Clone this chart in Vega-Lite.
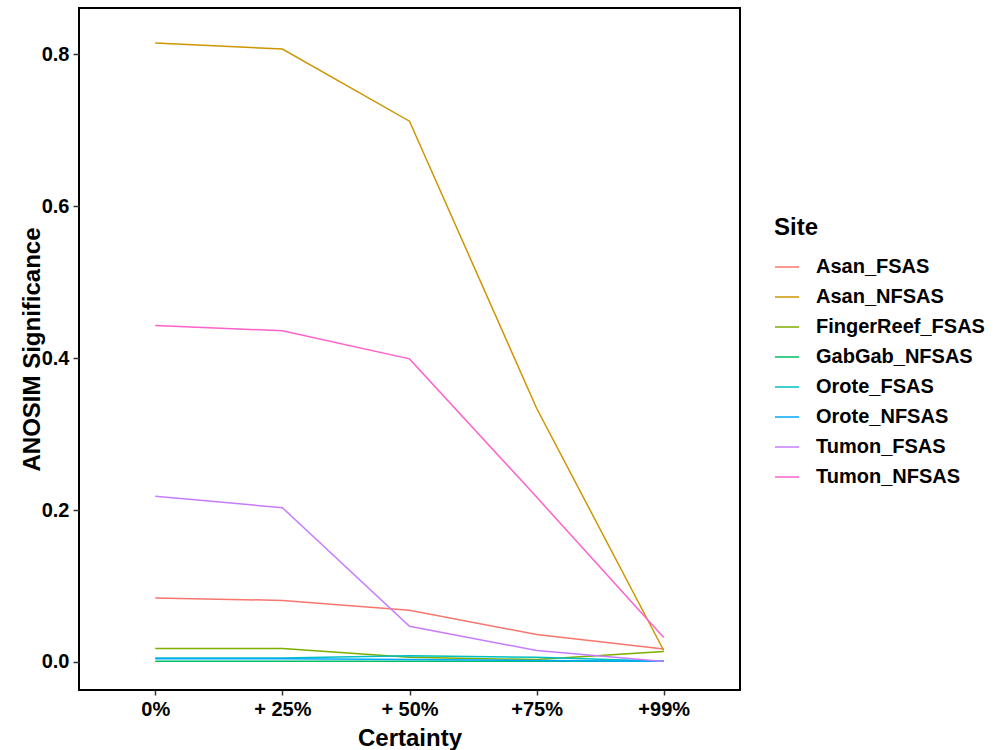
{
  "$schema": "https://vega.github.io/schema/vega-lite/v6.json",
  "width": 661,
  "height": 682,
  "padding": {"left": 79, "top": 8, "right": 260, "bottom": 60},
  "autosize": {"type": "none"},
  "background": "white",
  "data": {
    "values": [
      {"Site": "Asan_FSAS", "Certainty": "0%", "v": 0.084},
      {"Site": "Asan_FSAS", "Certainty": "+ 25%", "v": 0.081},
      {"Site": "Asan_FSAS", "Certainty": "+ 50%", "v": 0.068},
      {"Site": "Asan_FSAS", "Certainty": "+75%", "v": 0.036},
      {"Site": "Asan_FSAS", "Certainty": "+99%", "v": 0.017},
      {"Site": "Asan_NFSAS", "Certainty": "0%", "v": 0.815},
      {"Site": "Asan_NFSAS", "Certainty": "+ 25%", "v": 0.807},
      {"Site": "Asan_NFSAS", "Certainty": "+ 50%", "v": 0.712},
      {"Site": "Asan_NFSAS", "Certainty": "+75%", "v": 0.334},
      {"Site": "Asan_NFSAS", "Certainty": "+99%", "v": 0.015},
      {"Site": "FingerReef_FSAS", "Certainty": "0%", "v": 0.0175},
      {"Site": "FingerReef_FSAS", "Certainty": "+ 25%", "v": 0.0175},
      {"Site": "FingerReef_FSAS", "Certainty": "+ 50%", "v": 0.006},
      {"Site": "FingerReef_FSAS", "Certainty": "+75%", "v": 0.003},
      {"Site": "FingerReef_FSAS", "Certainty": "+99%", "v": 0.0136},
      {"Site": "GabGab_NFSAS", "Certainty": "0%", "v": 0.001},
      {"Site": "GabGab_NFSAS", "Certainty": "+ 25%", "v": 0.001},
      {"Site": "GabGab_NFSAS", "Certainty": "+ 50%", "v": 0.001},
      {"Site": "GabGab_NFSAS", "Certainty": "+75%", "v": 0.001},
      {"Site": "GabGab_NFSAS", "Certainty": "+99%", "v": 0.001},
      {"Site": "Orote_FSAS", "Certainty": "0%", "v": 0.005},
      {"Site": "Orote_FSAS", "Certainty": "+ 25%", "v": 0.005},
      {"Site": "Orote_FSAS", "Certainty": "+ 50%", "v": 0.008},
      {"Site": "Orote_FSAS", "Certainty": "+75%", "v": 0.006},
      {"Site": "Orote_FSAS", "Certainty": "+99%", "v": 0.001},
      {"Site": "Orote_NFSAS", "Certainty": "0%", "v": 0.004},
      {"Site": "Orote_NFSAS", "Certainty": "+ 25%", "v": 0.004},
      {"Site": "Orote_NFSAS", "Certainty": "+ 50%", "v": 0.003},
      {"Site": "Orote_NFSAS", "Certainty": "+75%", "v": 0.002},
      {"Site": "Orote_NFSAS", "Certainty": "+99%", "v": 0.001},
      {"Site": "Tumon_FSAS", "Certainty": "0%", "v": 0.218},
      {"Site": "Tumon_FSAS", "Certainty": "+ 25%", "v": 0.203},
      {"Site": "Tumon_FSAS", "Certainty": "+ 50%", "v": 0.047},
      {"Site": "Tumon_FSAS", "Certainty": "+75%", "v": 0.015},
      {"Site": "Tumon_FSAS", "Certainty": "+99%", "v": 0.0005},
      {"Site": "Tumon_NFSAS", "Certainty": "0%", "v": 0.443},
      {"Site": "Tumon_NFSAS", "Certainty": "+ 25%", "v": 0.436},
      {"Site": "Tumon_NFSAS", "Certainty": "+ 50%", "v": 0.399},
      {"Site": "Tumon_NFSAS", "Certainty": "+75%", "v": 0.217},
      {"Site": "Tumon_NFSAS", "Certainty": "+99%", "v": 0.032}
    ]
  },
  "mark": {"type": "line", "strokeWidth": 1.5},
  "encoding": {
    "x": {
      "field": "Certainty",
      "type": "ordinal",
      "sort": ["0%", "+ 25%", "+ 50%", "+75%", "+99%"],
      "scale": {"type": "point", "padding": 0.6},
      "axis": {
        "title": "Certainty",
        "labelAngle": 0,
        "domain": false,
        "grid": false,
        "tickColor": "#333333",
        "tickSize": 5,
        "tickWidth": 1.5,
        "labelColor": "black",
        "labelFont": "Liberation Sans",
        "labelFontSize": 20,
        "labelFontWeight": "bold",
        "labelPadding": 4,
        "titleFont": "Liberation Sans",
        "titleFontSize": 24,
        "titleFontWeight": "bold",
        "titleColor": "black",
        "titlePadding": 7
      }
    },
    "y": {
      "field": "v",
      "type": "quantitative",
      "scale": {"domain": [-0.037, 0.861], "nice": false, "zero": false},
      "axis": {
        "title": "ANOSIM Significance",
        "values": [0, 0.2, 0.4, 0.6, 0.8],
        "format": ".1f",
        "domain": false,
        "grid": false,
        "tickColor": "#333333",
        "tickSize": 6,
        "tickWidth": 1.5,
        "labelColor": "black",
        "labelFont": "Liberation Sans",
        "labelFontSize": 20,
        "labelFontWeight": "bold",
        "labelPadding": 4,
        "titleFont": "Liberation Sans",
        "titleFontSize": 24,
        "titleFontWeight": "bold",
        "titleColor": "black",
        "titlePadding": -3
      }
    },
    "color": {
      "field": "Site",
      "type": "nominal",
      "scale": {
        "domain": ["Asan_FSAS", "Asan_NFSAS", "FingerReef_FSAS", "GabGab_NFSAS", "Orote_FSAS", "Orote_NFSAS", "Tumon_FSAS", "Tumon_NFSAS"],
        "range": ["#F8766D", "#CD9600", "#7CAE00", "#00BE67", "#00BFC4", "#00A9FF", "#C77CFF", "#FF61CC"]
      },
      "legend": {
        "title": "Site",
        "orient": "none",
        "legendX": 695,
        "legendY": 208,
        "symbolType": "stroke",
        "symbolSize": 576,
        "symbolStrokeWidth": 1.5,
        "labelFont": "Liberation Sans",
        "labelFontSize": 20,
        "labelFontWeight": "bold",
        "labelColor": "black",
        "labelOffset": 16,
        "labelLimit": 300,
        "titleFont": "Liberation Sans",
        "titleFontSize": 24,
        "titleFontWeight": "bold",
        "titleColor": "black",
        "titlePadding": 14,
        "rowPadding": 7
      }
    }
  },
  "config": {
    "view": {"stroke": "black", "strokeWidth": 2}
  }
}
